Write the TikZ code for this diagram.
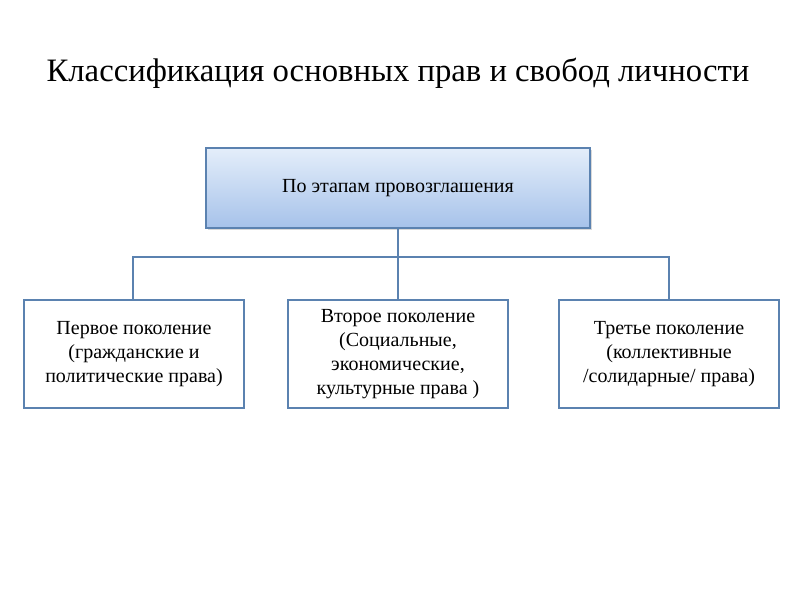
\documentclass[tikz,border=0pt]{standalone}
\usepackage{fontspec}
\setmainfont{Liberation Serif}
\usetikzlibrary{shadows}
\definecolor{edge}{HTML}{5B82B0}
\definecolor{topc}{HTML}{E4EEFA}
\definecolor{botc}{HTML}{A6C2EA}
\tikzset{
  box/.style={draw=edge, line width=1.5pt, fill=white, align=center, font=\fontsize{20}{24}\selectfont, minimum width=220pt, minimum height=108pt, inner sep=2pt},
  conn/.style={draw=edge, line width=1.2pt}
}
\begin{document}
\begin{tikzpicture}[x=1pt,y=-1pt]
\useasboundingbox (0,0) rectangle (800,600);
\node at (398,73) {\fontsize{32.7}{36}\selectfont Классификация основных прав и свобод личности};
\node[draw=edge, line width=1.5pt, top color=topc, bottom color=botc, minimum width=384pt, minimum height=80pt, drop shadow={opacity=0.3}, font=\fontsize{20}{24}\selectfont] (top) at (398,188) {По этапам провозглашения};
\node[box] (a) at (134,354) {Первое поколение\\(гражданские и\\политические права)};
\node[box] (b) at (398,354) {Второе поколение\\(Социальные,\\экономические,\\культурные права )};
\node[box] (c) at (669,354) {Третье поколение\\(коллективные\\/солидарные/ права)};
\coordinate (m) at (398,257);
\draw[conn] (top.south) -- (m);
\draw[conn] (a.north -| 133,0) |- (m) -| (c.north);
\draw[conn] (m) -- (b.north);
\end{tikzpicture}
\end{document}
